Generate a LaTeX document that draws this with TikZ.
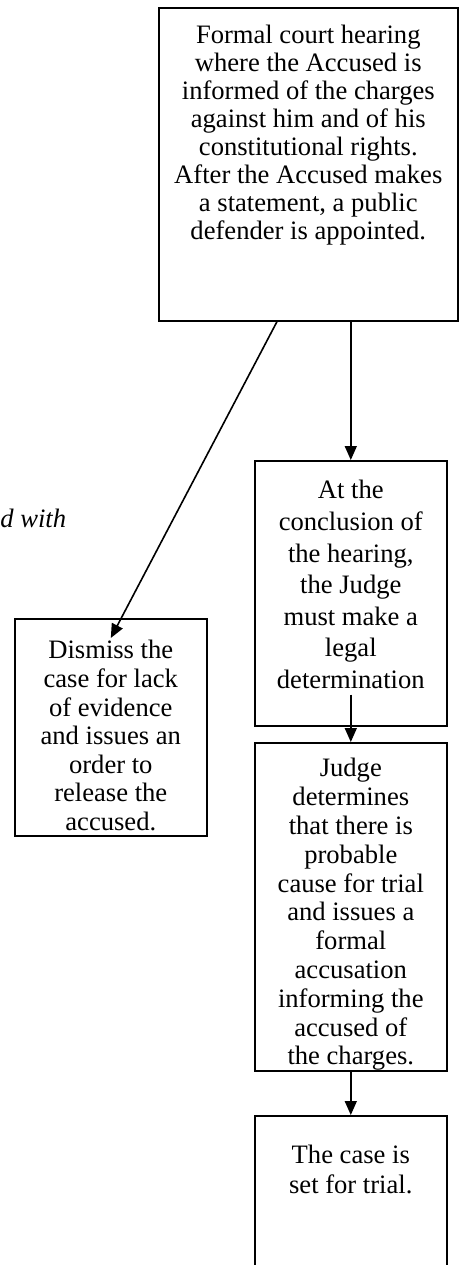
\documentclass[tikz,border=0pt]{standalone}
\usepackage{fontspec}
\setmainfont{Liberation Serif}
\usetikzlibrary{arrows.meta}

\tikzset{
  stage/.style={draw, line width=0.8pt, anchor=north west, inner sep=0pt,
    font=\fontsize{13.3pt}{#1}\selectfont},
  flow/.style={line width=0.8pt, -{Triangle[length=7pt,width=6pt]}}
}
% height, width, first baseline, lines
\newcommand{\stagetext}[4]{\parbox[c][#1][t]{#2}{\centering\rule{0pt}{#3}#4}}

\begin{document}
\begin{tikzpicture}[x=0.5pt,y=-0.5pt]
    \useasboundingbox (0,0) rectangle (460,1265);
    \clip (0,0) rectangle (460,1265);
    %% hearing at the top
    \node[stage=14pt] (hearing) at (158,7) {\stagetext{156.5pt}{149.5pt}{18pt}{Formal court hearing\\
        where the Accused is\\ informed of the charges\\ against him and of his\\
        constitutional rights.\\ After the Accused makes\\ a statement, a public\\
        defender is appointed.}};
    %% right column
    \node[stage=15.8pt] (concl) at (254,460) {\stagetext{132.5pt}{96pt}{19pt}{At the\\ conclusion of\\
        the hearing,\\ the Judge\\ must make a\\ legal\\ determination}};
    \node[stage=14.4pt] (judge) at (254,742) {\stagetext{164pt}{96pt}{17pt}{Judge\\ determines\\
        that there is\\ probable\\ cause for trial\\ and issues a\\ formal\\
        accusation\\ informing the\\ accused of\\ the charges.}};
    \node[stage=15pt] (trial) at (254,1115) {\stagetext{92.5pt}{96pt}{24pt}{The case is\\ set for trial.}};
    %% left branch
    \node[stage=14.3pt] (dismiss) at (14,618) {\stagetext{108.5pt}{96pt}{20pt}{Dismiss the\\ case for lack\\
        of evidence\\ and issues an\\ order to\\ release the\\ accused.}};
    %% note at the left edge
    \node[anchor=base west, inner sep=0pt, font=\fontsize{13.3pt}{15pt}\selectfont\itshape]
        (note) at (0,527) {d with};
    %% arrows
    \draw[flow] (concl.north |- hearing.south) -- (concl.north);
    \draw[flow] ([yshift=16pt]concl.south) -- (judge.north);
    \draw[flow] (judge.south) -- (trial.north);
    \draw[flow] ([xshift=59.5pt]hearing.south west) -- ([yshift=-10pt]dismiss.north);
\end{tikzpicture}
\end{document}
